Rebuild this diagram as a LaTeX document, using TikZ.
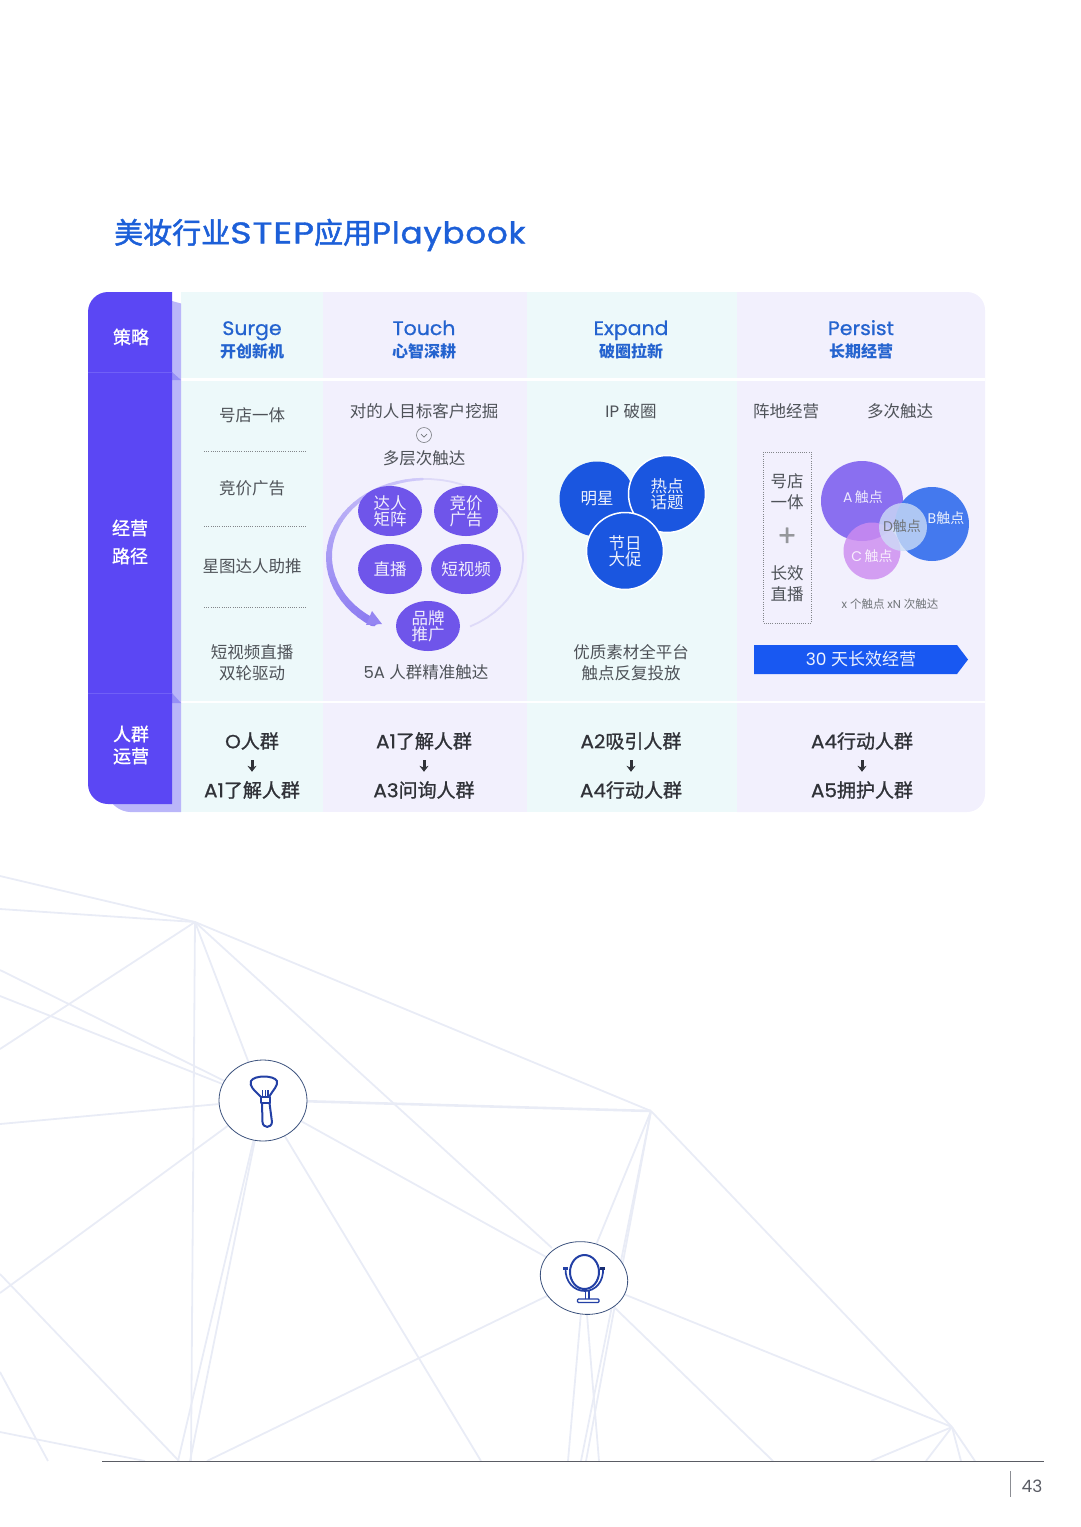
\documentclass[tikz,border=0pt]{standalone}
\usepackage{fontspec}
\usepackage{tikz}
\usetikzlibrary{arrows.meta, shapes.geometric}
\newfontfamily\cjk{Noto Sans CJK SC}
\newfontfamily\cjkmed[FakeBold=1.1]{Noto Sans CJK SC}
\newfontfamily\cjktitle[FakeBold=1.7]{Noto Sans CJK SC}
\newfontfamily\lat{Poppins}
\newfontfamily\latmed[FakeBold=0.8, FakeStretch=1.05]{Poppins}
\newfontfamily\latstep[FakeBold=1.3, FakeStretch=1.22, LetterSpace=3]{Poppins}
\newfontfamily\latplay[FakeBold=1.3, FakeStretch=1.08, LetterSpace=3]{Poppins}
\newcommand{\px}[2]{\fontsize{#1}{#2}\selectfont}
\definecolor{tabpurple}{RGB}{91, 71, 244}
\definecolor{tabline}{RGB}{112, 96, 247}
\definecolor{stripviolet}{RGB}{186, 182, 249}
\definecolor{foldviolet}{RGB}{150, 143, 246}
\definecolor{columncyan}{RGB}{237, 249, 250}
\definecolor{columnlav}{RGB}{242, 240, 253}
\definecolor{headblue}{RGB}{36, 99, 207}
\definecolor{titleblue}{RGB}{28, 95, 216}
\definecolor{bodygray}{RGB}{78, 82, 88}
\definecolor{popdark}{RGB}{48, 50, 56}
\definecolor{bubblepurple}{RGB}{111, 85, 234}
\definecolor{arcpurple}{RGB}{130, 112, 240}
\definecolor{arcpale}{RGB}{222, 218, 248}
\definecolor{ipblue}{RGB}{26, 86, 224}
\definecolor{bandblue}{RGB}{24, 88, 242}
\definecolor{touchA}{RGB}{138, 111, 240}
\definecolor{touchB}{RGB}{68, 121, 238}
\definecolor{touchC}{RGB}{205, 140, 240}
\definecolor{touchD}{RGB}{205, 222, 246}
\definecolor{meshgray}{RGB}{233, 236, 246}
\definecolor{iconblue}{RGB}{35, 64, 165}
\definecolor{ringslate}{RGB}{60, 82, 125}
\definecolor{rulegray}{RGB}{90, 92, 100}
\tikzset{
  tabtext/.style={text=white, align=center, inner sep=0pt, font=\cjkmed\px{18}{28}},
  headlat/.style={text=headblue, inner sep=0pt, anchor=base, font=\latmed\px{19.5}{22}},
  headcn/.style={text=headblue, inner sep=0pt, font=\cjk\bfseries\px{16}{20}},
  bodytext/.style={text=bodygray, align=center, inner sep=0pt, font=\cjk\px{16.5}{21}},
  poptext/.style={text=popdark, inner sep=0pt, minimum height=20pt, font=\cjkmed\px{19}{22}},
  popflow/.style={-{Stealth[length=6pt,width=9pt]}, line width=3pt, draw=popdark, shorten <=9pt, shorten >=8pt},
  bubble/.style={ellipse, fill=bubblepurple, text=white!90!bubblepurple, align=center, inner sep=0pt,
    minimum width=64pt, minimum height=50pt, font=\cjk\px{16.5}{15}},
  ipdisc/.style={circle, fill=ipblue, draw=white, line width=1.5pt, text=white!92!ipblue, align=center,
    inner sep=0pt, minimum size=77pt, font=\cjk\px{16.5}{16}},
  touchlabel/.style={inner sep=0pt, font=\cjk\px{14}{16}},
  dotrule/.style={draw=bodygray!70, line width=0.7pt, dash pattern=on 0.9pt off 1.3pt},
  meshline/.style={draw=meshgray, line width=1.8pt},
  iconline/.style={draw=iconblue, line width=2pt, line join=round},
  iconring/.style={ellipse, draw=ringslate, line width=0.8pt, fill=white, inner sep=0pt}
}

\begin{document}
\begin{tikzpicture}[x=1pt, y=-1pt, >=Stealth]
  \useasboundingbox (0,0) rectangle (1080,1527);

  % Mesh behind the icons
  \coordinate (hubTop) at (195,922);
  \coordinate (hubBrush) at (263,1100);
  \coordinate (hubRight) at (651,1111);
  \coordinate (hubMirror) at (584,1278);
  \coordinate (hubCorner) at (952,1427);
  \foreach \ex/\ey in {0/876, 0/909, 0/1049, 191/1461, 263/1100, 552/1248}
    \draw[meshline] (hubTop) -- (\ex,\ey);
  \draw[meshline] (hubTop) -- (hubRight);
  \draw[meshline, line width=2.6pt] (hubBrush) -- (hubRight);
  \foreach \ex/\ey in {0/970, 0/996, 0/1124, 0/1293, 178/1461, 190/1461, 481/1461, 584/1278}
    \draw[meshline] (hubBrush) -- (\ex,\ey);
  \foreach \ex/\ey in {581/1461, 586/1461, 596/1245}
    \draw[meshline] (hubRight) -- (\ex,\ey);
  \draw[meshline] (hubRight) -- (hubCorner);
  \foreach \ex/\ey in {952/1427, 207/1461, 773/1461, 568/1461, 599/1461}
    \draw[meshline] (hubMirror) -- (\ex,\ey);
  \foreach \ex/\ey in {871/1461, 926/1461, 961/1461, 975/1461}
    \draw[meshline] (hubCorner) -- (\ex,\ey);
  \draw[meshline] (0,1274) -- (179,1461);
  \draw[meshline] (0,1372) -- (48,1461);
  \draw[meshline] (0,1432) -- (145,1461);

  % Title
  \node[anchor=west, text=titleblue, inner sep=0pt] (title) at (114,235)
    {\cjktitle\px{29}{34}美妆行业{\latstep\px{30}{34}STEP}应用{\latplay\px{30}{34}Playbook}};

  % Column panels
  \fill[columncyan] (181,292) rectangle (323,812);
  \fill[columnlav] (323,292) rectangle (527,812);
  \fill[columncyan] (527,292) rectangle (737,812);
  \fill[columnlav] (737,292) [rounded corners=18pt] -- (985,292) -- (985,812) [sharp corners] -- (737,812) -- cycle;
  \fill[white] (181,378) rectangle (985,380.5);
  \fill[white] (181,700.5) rectangle (985,703);

  % Purple tab with its folded strip
  \fill[stripviolet] (172,301) -- (181,303.5) -- (181,812) [rounded corners=8pt] -- (122,812) -- (108,800) [sharp corners] -- (172,800) -- cycle;
  \fill[foldviolet] (172,372) -- (181,380) -- (172,380) -- cycle;
  \fill[foldviolet] (172,693) -- (181,703) -- (172,703) -- cycle;
  \fill[tabpurple] (172,292) [rounded corners=20pt] -- (88,292) -- (88,804) [sharp corners] -- (172,804) -- cycle;
  \draw[tabline, line width=0.8pt] (88,372) -- (172,372);
  \draw[tabline, line width=0.8pt] (88,693) -- (172,693);
  \node[tabtext] (tabStrategy) at (131,337) {策略};
  \node[tabtext] (tabPath) at (130,542) {经营\\路径};
  \node[tabtext, font=\cjkmed\px{18}{22}] (tabCrowd) at (131,745) {人群\\运营};

  % Column heads
  \node[headlat] (surgeHead) at (252,335) {Surge};
  \node[headcn] (surgeSub) at (252,351) {开创新机};
  \node[headlat] (touchHead) at (424,335) {Touch};
  \node[headcn] (touchSub) at (424,351) {心智深耕};
  \node[headlat] (expandHead) at (631,335) {Expand};
  \node[headcn] (expandSub) at (631,351) {破圈拉新};
  \node[headlat] (persistHead) at (861,335) {Persist};
  \node[headcn] (persistSub) at (861,351) {长期经营};

  % Surge paths
  \node[bodytext] (surgeOne) at (252,415) {号店一体};
  \node[bodytext] (surgeTwo) at (252,488) {竞价广告};
  \node[bodytext] (surgeThree) at (252,566) {星图达人助推};
  \node[bodytext] (surgeFour) at (252,662.5) {短视频直播\\双轮驱动};
  \draw[dotrule] (204,451) -- (307,451);
  \draw[dotrule] (204,526) -- (307,526);
  \draw[dotrule] (204,607) -- (307,607);

  % Touch paths
  \node[bodytext] (touchGoal) at (424,411) {对的人目标客户挖掘};
  \node[circle, draw=bodygray!75, line width=0.6pt, minimum size=15pt, inner sep=0pt] (touchMark) at (424,435) {};
  \draw[bodygray!80, line width=0.7pt] (421,434) -- (424,437) -- (427,434);
  \node[bodytext] (touchLayer) at (424,458) {多层次触达};
  \foreach \a in {90,96,...,300}
    \draw[arcpale, line width=1.8pt] ({426+97*cos(\a+207)},{557-78*sin(\a+207)}) -- ({426+97*cos(\a+213)},{557-78*sin(\a+213)});
  \foreach \a in {92,97,...,232}{
    \pgfmathsetmacro\arcw{2.5+5.5*(\a-92)/140}
    \pgfmathsetmacro\arctint{30+60*(\a-92)/140}
    \draw[arcpurple!\arctint!columnlav, line width=\arcw pt, line cap=round]
      ({426+97*cos(\a)},{557-78*sin(\a)}) -- ({426+97*cos(\a+5)},{557-78*sin(\a+5)});
  }
  \fill[arcpurple!85!white] (382,624) -- (372,611) -- (366,625) -- cycle;
  \node[bubble] (touchTalent) at (390,511) {达人\\矩阵};
  \node[bubble] (touchBid) at (466,511) {竞价\\广告};
  \node[bubble] (touchLive) at (390,569) {直播};
  \node[bubble] (touchShort) at (466,569) {短视频};
  \node[bubble] (touchBrand) at (428,626) {品牌\\推广};
  \node[bodytext] (touchAudience) at (426,672) {\lat 5A \cjk 人群精准触达};

  % Expand paths
  \node[bodytext] (expandIp) at (631,411) {\lat IP \cjk 破圈};
  \node[ipdisc, draw=none, minimum size=75pt] (discStar) at (597,499) {明星};
  \node[ipdisc] (discTopic) at (667,494) {热点\\话题};
  \node[ipdisc] (discFest) at (625,551) {节日\\大促};
  \node[bodytext] (expandAsset) at (631,662.5) {优质素材全平台\\触点反复投放};

  % Persist paths
  \node[bodytext] (persistBase) at (786,411) {阵地经营};
  \node[bodytext] (persistMulti) at (900,411) {多次触达};
  \draw[dotrule] (763,452) rectangle (811,623);
  \node[bodytext] (persistOne) at (787,491.5) {号店\\一体};
  \node[text=bodygray!60, inner sep=0pt, font=\cjkmed\px{30}{30}] (persistPlus) at (787,537) {+};
  \node[bodytext] (persistTwo) at (787,584) {长效\\直播};
  \fill[touchA] (862,501) ellipse [x radius=41, y radius=40];
  \fill[touchB] (932,524) circle (37);
  \fill[touchC, fill opacity=0.82] (872,551) circle (28.5);
  \fill[touchD, fill opacity=0.78] (903,527) circle (24);
  \node[touchlabel, text=white!85!touchA] (labelA) at (863,497) {\lat A\,\cjk 触点};
  \node[touchlabel, text=white!90!touchB] (labelB) at (946,518) {\lat B\cjk 触点};
  \node[touchlabel, text=white!85!touchC] (labelC) at (872,556) {\lat C\,\cjk 触点};
  \node[touchlabel, text=bodygray!80] (labelD) at (902,526) {\lat D\cjk 触点};
  \node[text=bodygray!80, inner sep=0pt, font=\cjk\px{11.5}{13}] (touchCount) at (890,604) {\lat x \cjk 个触点 \lat xN \cjk 次触达};
  \fill[bandblue] (754,645) -- (957,645) -- (968,659.5) -- (957,674) -- (754,674) -- cycle;
  \node[text=white!92!bandblue, inner sep=0pt, font=\cjk\px{17}{20}] (bandText) at (861,659.5) {\lat 30 \cjk 天长效经营};

  % Crowd flow row
  \node[poptext] (crowdO) at (252,741) {\latmed O\cjkmed 人群};
  \node[poptext] (crowdOnext) at (252,790) {\latmed A1\cjkmed 了解人群};
  \node[poptext] (crowdT) at (424,741) {\latmed A1\cjkmed 了解人群};
  \node[poptext] (crowdTnext) at (424,790) {\latmed A3\cjkmed 问询人群};
  \node[poptext] (crowdE) at (631,741) {\latmed A2\cjkmed 吸引人群};
  \node[poptext] (crowdEnext) at (631,790) {\latmed A4\cjkmed 行动人群};
  \node[poptext] (crowdP) at (862,741) {\latmed A4\cjkmed 行动人群};
  \node[poptext] (crowdPnext) at (862,790) {\latmed A5\cjkmed 拥护人群};
  \draw[popflow] (crowdO) -- (crowdOnext);
  \draw[popflow] (crowdT) -- (crowdTnext);
  \draw[popflow] (crowdE) -- (crowdEnext);
  \draw[popflow] (crowdP) -- (crowdPnext);

  % Brush icon
  \node[iconring, minimum width=88pt, minimum height=81pt] (ringBrush) at (263,1100.5) {};
  \draw[iconline] (261,1097) .. controls (254,1090) and (249,1086) .. (251,1081) .. controls (254,1075) and (274,1075) .. (277,1081) .. controls (278,1086) and (273,1090) .. (269,1097);
  \draw[iconline] (261,1097) rectangle (269.5,1103);
  \draw[iconline] (262,1103) -- (262.5,1122) .. controls (263,1128.5) and (271.5,1128.5) .. (272,1122) -- (269.5,1103);
  \draw[iconline, line width=1.1pt] (262.5,1090) -- (262.5,1097) (265.5,1090) -- (265.5,1097) (268,1090) -- (268,1097);

  % Mirror icon
  \node[iconring, rotate=-12, minimum width=88pt, minimum height=72pt] (ringMirror) at (584,1278) {};
  \draw[iconline] (584.5,1272) ellipse [x radius=14.5, y radius=17];
  \draw[iconline, line width=1.7pt] (565.5,1268) .. controls (565,1282) and (574,1291) .. (585,1291) .. controls (595,1291) and (604,1282) .. (603,1268);
  \fill[iconblue] (563,1267) rectangle (568,1270);
  \fill[iconblue!70!black] (600,1267) rectangle (605,1270);
  \draw[iconline, line width=1.3pt] (585.5,1291) -- (585.5,1299) (589,1291) -- (589,1299);
  \draw[iconline, line width=1.3pt, rounded corners=1pt] (577.5,1299) rectangle (599,1302.5);

  % Footer
  \draw[rulegray, line width=0.8pt] (102,1461) -- (1044,1461);
  \draw[rulegray!70, line width=0.8pt] (1010,1471) -- (1010,1497);
  \node[text=rulegray, inner sep=0pt, font=\lat\px{17}{20}] (pageNo) at (1032,1486) {43};
\end{tikzpicture}
\end{document}
